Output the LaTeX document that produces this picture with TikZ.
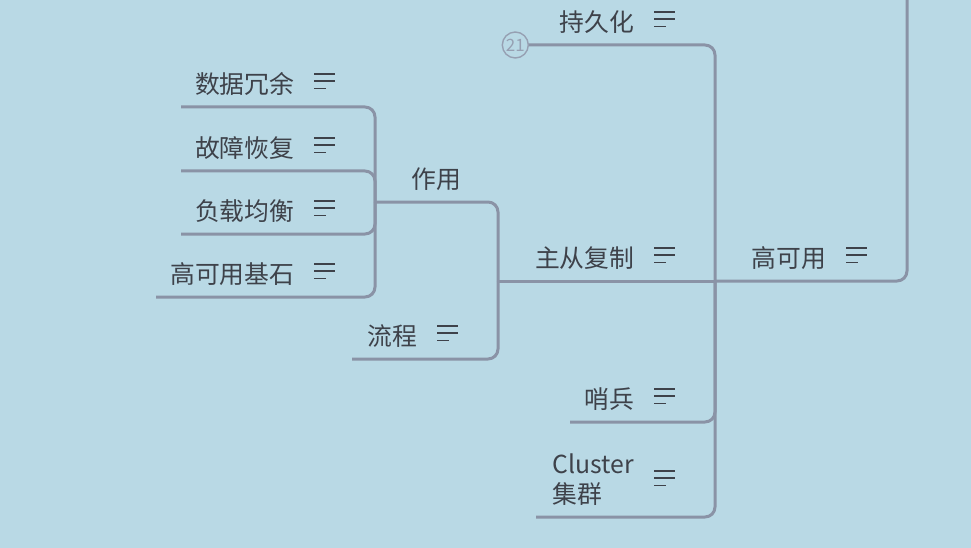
\documentclass[tikz,border=0pt]{standalone}
\usepackage{fontspec}
\usepackage{xcolor}
\usetikzlibrary{positioning}
\newfontfamily\cjk{Noto Sans CJK SC}
\definecolor{bgBlue}{RGB}{185,217,229}
\definecolor{linkGray}{RGB}{138,147,166}
\definecolor{txtGray}{RGB}{62,66,74}
\definecolor{cntGray}{RGB}{150,160,178}
% note icon (three bars)
\newcommand{\noteicon}[1][4pt]{\hspace{20pt}\raisebox{#1}{\color{txtGray}\vbox{\hrule width 21pt height 1.7pt \vskip 5.6pt
  \hrule width 21pt height 1.7pt \vskip 5.6pt \hrule width 12pt height 1.7pt}}}

\begin{document}
\begin{tikzpicture}[x=1pt, y=-1pt,
    topic/.style={rectangle, anchor=south west, inner sep=0pt, text width=#1, align=right,
      text depth=13.5pt, text=txtGray, font=\cjk\fontsize{24.8}{30}\selectfont},
    branch/.style={line width=3pt, linkGray, rounded corners=10pt},
    count/.style={circle, draw=cntGray, line width=1.4pt, fill=bgBlue, minimum size=26pt,
      inner sep=0pt, text=cntGray, font=\cjk\fontsize{17}{17}\selectfont}]
  \clip (0,0) rectangle (971,548);
  \fill[bgBlue] (0,0) rectangle (971,548);
  % main branch
  \node[topic=152] (gky) at (715,281) {高可用\noteicon};
  \coordinate (up) at (907,-10);
  % children of 高可用
  \node[topic=147] (cjh) at (528,45) {持久化\noteicon};
  \node[topic=177] (zcfz) at (498,281) {主从复制\noteicon};
  \node[topic=105] (sb) at (570,422) {哨兵\noteicon};
  \node[topic=139] (clu) at (536,517) {\begin{tabular}[b]{@{}l@{}}Cluster\\集群\end{tabular}\noteicon[17pt]};
  % children of 主从复制
  \node[topic=86] (zy) at (375,202) {作用};
  \node[topic=106] (lc) at (352,359) {流程\noteicon};
  % children of 作用
  \node[topic=154] (sjry) at (181,107) {数据冗余\noteicon};
  \node[topic=154] (gzhf) at (181,171) {故障恢复\noteicon};
  \node[topic=154] (fzjh) at (181,234) {负载均衡\noteicon};
  \node[topic=179] (gkyjs) at (156,297) {高可用基石\noteicon};
  \draw[branch] (up) |- (gky.south west);
  \draw[branch] (gky.south west) -- (zcfz.south west);
  \foreach \p/\c in {gky/cjh, gky/sb, gky/clu, zcfz/zy, zcfz/lc, zy/sjry, zy/gzhf, zy/fzjh, zy/gkyjs}
    {\draw[branch] (\p.south west) |- (\c.south west);}
  \node[count, anchor=east] (n21) at ([xshift=1pt]cjh.south west) {21};
\end{tikzpicture}
\end{document}
